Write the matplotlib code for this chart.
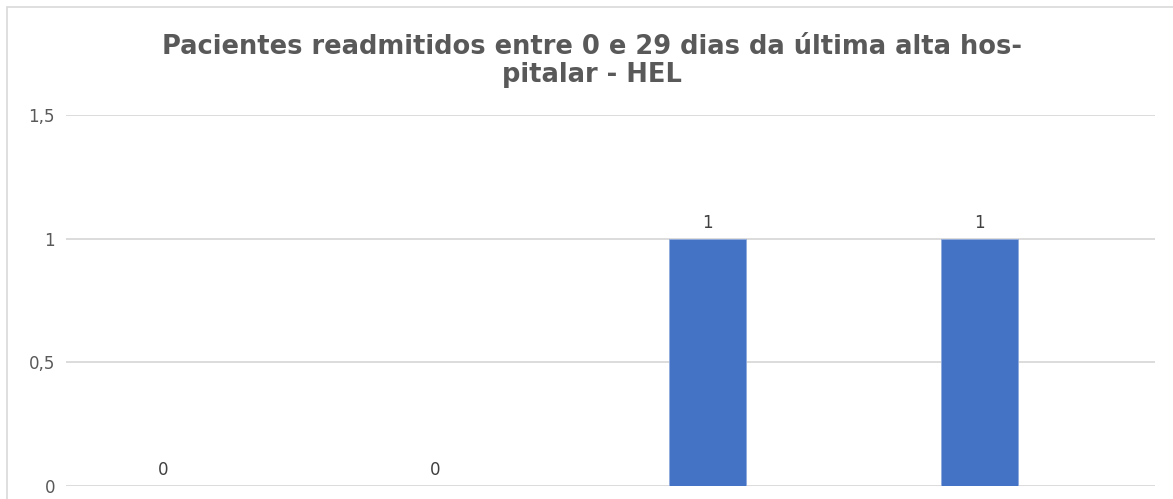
import matplotlib.pyplot as plt
from matplotlib.patches import Rectangle

# dados do grafico
categorias = ["1", "2", "3", "4"]
valores = [0, 0, 1, 1]
y_ticks = [0, 0.5, 1, 1.5]
y_labels = ["0", "0,5", "1", "1,5"]
titulo = "Pacientes readmitidos entre 0 e 29 dias da última alta hos-\npitalar - HEL"

W, H = 1173, 499
fig = plt.figure(figsize=(W / 100, H / 100), dpi=100)

# moldura do grafico (cortada a direita e em baixo)
fig.patches.append(Rectangle((6.5 / W, -0.1), 1.2, 1.1 - 7.5 / H,
                             transform=fig.transFigure, fill=False,
                             edgecolor="#d9d9d9", linewidth=1.2))

ax = fig.add_axes([66 / W, 13 / H, (1155 - 66) / W, (486 - 115) / H])
x = list(range(len(categorias)))
ax.bar(x, valores, width=0.283, color="#4472C4", edgecolor="#8faadc",
       linewidth=0.6, zorder=3)

ax.set_xlim(-0.358, -0.358 + 1089 / 272)
ax.set_ylim(0, 1.5)
ax.set_yticks(y_ticks)
ax.set_yticklabels(y_labels)
ax.set_xticks([])
ax.tick_params(axis="y", length=0, pad=8, labelsize=12, labelcolor="#595959")
ax.grid(axis="y", color="#d9d9d9", linewidth=1.3, zorder=0)
for s in ax.spines.values():
    s.set_visible(False)

# rotulos de dados
for xi, v in zip(x, valores):
    ax.annotate(str(v), (xi, v), xytext=(0, 5), textcoords="offset points",
                ha="center", va="bottom", fontsize=12, color="#404040")

fig.text(0.5 * (148 + 1035) / W, 1 - 61 / H, titulo, ha="center", va="center",
         fontsize=18.5, fontweight="bold", color="#595959", family="DejaVu Sans",
         linespacing=1.08)

fig.savefig("out.png", dpi=100)
